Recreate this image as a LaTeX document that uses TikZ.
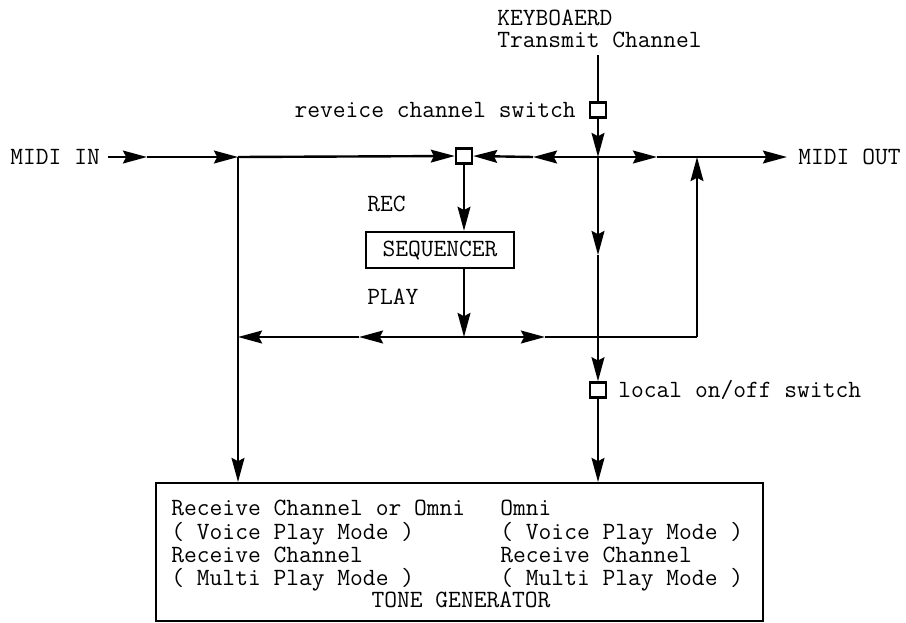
\documentclass[tikz,border=0pt]{standalone}
\usetikzlibrary{arrows.meta}
\begin{document}
\begin{tikzpicture}[x=0.5pt,y=-0.5pt,
  every node/.style={font=\fontsize{12.4}{14}\selectfont\ttfamily, inner sep=0pt},
  wire/.style={line width=1.2pt},
  tip/.style={wire,-{Stealth[length=12pt,width=6.4pt,inset=1.6pt]}},
  switchbox/.style={draw,line width=1.2pt,minimum width=8pt,minimum height=7.5pt,fill=white},
  lbl/.style={anchor=base west},
  frame/.style={draw,line width=1.2pt},
]
\useasboundingbox (0,0) rectangle (906,622);

% labels
\node[lbl] (midiin) at (10,164) {MIDI IN};
\node[lbl] (midiout) at (798,164) {MIDI OUT};
\node[lbl] (kb1) at (497,25) {KEYBOAERD};
\node[lbl] (kb2) at (497,47) {Transmit Channel};
\node[anchor=base east] (rsl) at (576,117) {reveice channel switch};
\node[lbl] (rec) at (367,211) {REC};
\node[lbl] (play) at (367,304) {PLAY};
\node[lbl] (lsl) at (618,397) {local on/off switch};

% boxes
\node[frame, minimum width=74pt, minimum height=18pt] (seq) at (440,250) {SEQUENCER};
\node[switchbox] (ksw) at (598,110) {};
\node[switchbox] (rsw) at (464,156) {};
\node[switchbox] (lsw) at (598,390) {};
\node[frame, minimum width=303.5pt, minimum height=69pt, anchor=north west] (tg) at (155,482) {};

% tone generator texts
\node[lbl] (t1) at (171,515) {Receive Channel or Omni};
\node[lbl] (t2) at (171,539) {( Voice Play Mode )};
\node[lbl] (t3) at (171,562) {Receive Channel};
\node[lbl] (t4) at (171,585) {( Multi Play Mode )};
\node[lbl] (u1) at (500,515) {Omni};
\node[lbl] (u2) at (500,539) {( Voice Play Mode )};
\node[lbl] (u3) at (500,562) {Receive Channel};
\node[lbl] (u4) at (500,585) {( Multi Play Mode )};
\node[anchor=base] (tgt) at (461,607) {TONE GENERATOR};

% coordinates
\coordinate (m0) at (108,157);
\coordinate (a1) at (147,157);
\coordinate (j1) at (238,157);
\coordinate (k1) at (598,157);
\coordinate (a2) at (533,157);
\coordinate (a3) at (657,157);
\coordinate (mo) at (787,157);
\coordinate (r1) at (697,157);
\coordinate (ktop) at (598,55);
\coordinate (kmid) at (598,255);
\coordinate (l1) at (238,337);
\coordinate (l2) at (359,337);
\coordinate (s1) at (464,337);
\coordinate (l3) at (545,337);
\coordinate (r2) at (697,337);
\coordinate (tgl) at (238,482);
\coordinate (tgr) at (598,482);

% main line
\draw[tip] (m0) -- (a1);
\draw[tip] (a1) -- (j1);
\draw[tip] (j1) -- (rsw.west);
\draw[tip] (k1) -- (a2);
\draw[tip] (a2) -- (rsw.east);
\draw[tip] (k1) -- (a3);
\draw[tip] (a3) -- (mo);

% keyboard line
\draw[wire] (ktop) -- (ksw.north);
\draw[tip] (ksw.south) -- (k1);
\draw[tip] (k1) -- (kmid);
\draw[tip] (kmid) -- (lsw.north);
\draw[tip] (lsw.south) -- (tgr);

% left line
\draw[tip] (j1) -- (tgl);

% sequencer
\draw[tip] (rsw.south) -- (rsw.south |- seq.north);
\draw[tip] (rsw |- seq.south) -- (s1);

% lower line
\draw[tip] (s1) -- (l2);
\draw[tip] (l2) -- (l1);
\draw[tip] (s1) -- (l3);
\draw[wire] (l3) -- (r2);
\draw[tip] (r2) -- (r1);
\end{tikzpicture}
\end{document}
